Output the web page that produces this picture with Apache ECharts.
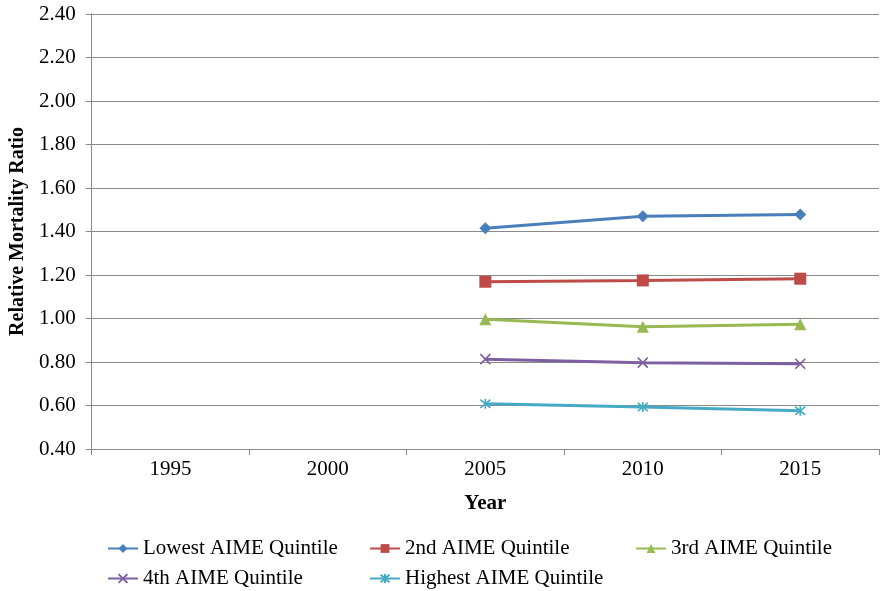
<!DOCTYPE html>
<html><head><meta charset="utf-8">
<script src="https://cdn.jsdelivr.net/npm/echarts@6/dist/echarts.min.js"></script>
<style>html,body{margin:0;padding:0;background:#fff}#c{width:881px;height:591px}</style>
</head><body><div id="c"></div>
<script>
const categories = ['1995', '2000', '2005', '2010', '2015'];
const lowest = [null, null, 1.415, 1.470, 1.478];
const second = [null, null, 1.169, 1.175, 1.183];
const third = [null, null, 0.996, 0.962, 0.973];
const fourth = [null, null, 0.813, 0.797, 0.792];
const highest = [null, null, 0.608, 0.593, 0.576];
const seriesNames = ['Lowest AIME Quintile', '2nd AIME Quintile', '3rd AIME Quintile', '4th AIME Quintile', 'Highest AIME Quintile'];
const colors = ['#4A7EBB', '#BE4B48', '#98B954', '#7D60A0', '#46AAC5'];

const FONT = 'Liberation Serif';
const XSYM = 'path://M0,0L10,10M10,0L0,10';
const ASYM = 'path://M0,0L10,10M10,0L0,10M5,-1L5,11';
const symbols = ['diamond', 'rect', 'triangle', XSYM, ASYM];
const sizes = [12, 12, 12, 10, 10];
const dataSets = [lowest, second, third, fourth, highest];

const series = dataSets.map((d, i) => ({
  name: seriesNames[i],
  type: 'line',
  data: d,
  symbol: symbols[i],
  symbolSize: sizes[i],
  lineStyle: { width: 3, color: colors[i] },
  itemStyle: i >= 3 ? { color: colors[i], borderColor: colors[i], borderWidth: 1.6 } : { color: colors[i] },
  emphasis: { disabled: true },
  animation: false
}));

const legendPos = [[107, 538], [369, 538], [635, 538], [107, 568], [369, 568]];
const legends = seriesNames.map((n, i) => ({
  data: [n],
  left: legendPos[i][0],
  top: legendPos[i][1],
  padding: 0,
  itemWidth: 30,
  itemHeight: 11,
  itemGap: 0,
  textStyle: { fontFamily: FONT, fontSize: 21, color: '#000' }
}));

const chart = echarts.init(document.getElementById('c'));
chart.setOption({
  backgroundColor: '#fff',
  animation: false,
  grid: { left: 89, right: 2, top: 14, bottom: 142 },
  legend: legends,
  xAxis: {
    type: 'category',
    data: categories,
    boundaryGap: true,
    name: 'Year',
    nameLocation: 'middle',
    nameGap: 44,
    nameTextStyle: { fontFamily: FONT, fontSize: 21, fontWeight: 'bold', color: '#000' },
    axisLine: { lineStyle: { color: '#8A8A8A', width: 1 } },
    axisTick: { show: true, alignWithLabel: false, length: 6, lineStyle: { color: '#8A8A8A' } },
    axisLabel: { fontFamily: FONT, fontSize: 21, color: '#000', margin: 10 }
  },
  yAxis: {
    type: 'value',
    min: 0.4,
    max: 2.4,
    interval: 0.2,
    name: 'Relative Mortality Ratio',
    nameLocation: 'middle',
    nameGap: 58,
    nameTextStyle: { fontFamily: FONT, fontSize: 20, fontWeight: 'bold', color: '#000' },
    axisLine: { show: true, lineStyle: { color: '#8A8A8A', width: 1 } },
    axisTick: { show: true, length: 6, lineStyle: { color: '#8A8A8A' } },
    splitLine: { lineStyle: { color: '#8A8A8A', width: 1 } },
    axisLabel: { fontFamily: FONT, fontSize: 21, color: '#000', margin: 16, formatter: v => v.toFixed(2) }
  },
  series: series
});
</script>
</body></html>
